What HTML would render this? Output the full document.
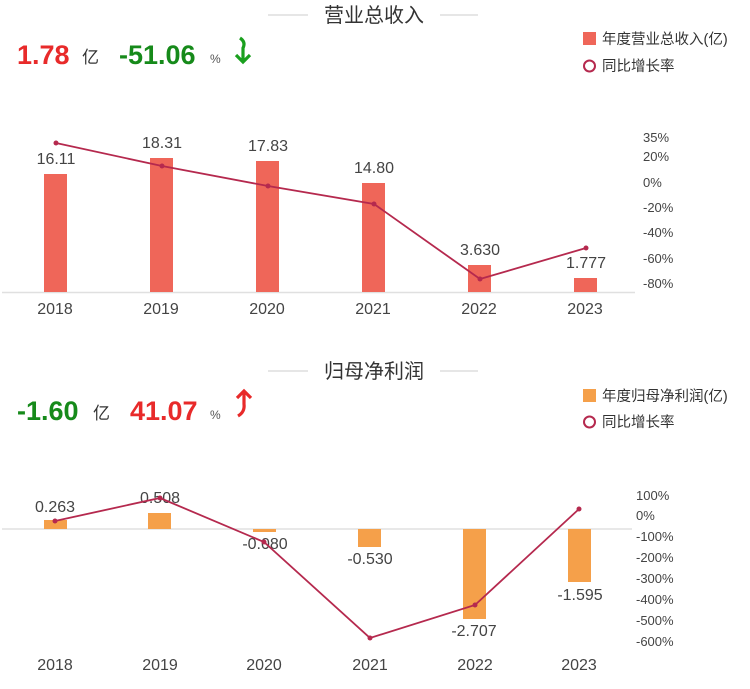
<!DOCTYPE html>
<html><head><meta charset="utf-8"><style>
html,body{margin:0;padding:0;background:#fff;width:750px;height:689px;overflow:hidden}
svg{display:block}
text{font-family:"Liberation Sans","Noto Sans CJK SC",sans-serif}
</style></head><body>
<svg width="750" height="689" viewBox="0 0 750 689" xmlns="http://www.w3.org/2000/svg">
<!-- TOP -->
<line x1="268" y1="15" x2="308" y2="15" stroke="#ccc" stroke-width="1"/>
<line x1="440" y1="15" x2="478" y2="15" stroke="#ccc" stroke-width="1"/>
<text x="374" y="22" font-size="20" fill="#333" text-anchor="middle">营业总收入</text>
<text x="17" y="64" font-size="27" font-weight="bold" fill="#e82a2a">1.78</text>
<text x="82" y="63" font-size="17" fill="#333">亿</text>
<text x="119" y="64" font-size="27" font-weight="bold" fill="#168a1a">-51.06</text>
<text x="210" y="63" font-size="12" fill="#555">%</text>
<path d="M240 38 Q246 42 243 48 L243 62 M236 55 L243 62 L250 55" fill="none" stroke="#1aa01e" stroke-width="3.2"/>
<rect x="583" y="32" width="13" height="13" fill="#ef6659"/>
<text x="602" y="44" font-size="14.5" fill="#333">年度营业总收入(亿)</text>
<circle cx="589.5" cy="66" r="5.5" fill="none" stroke="#b5294e" stroke-width="2"/>
<text x="602" y="71" font-size="14.5" fill="#333">同比增长率</text>

<line x1="2" y1="292.5" x2="635" y2="292.5" stroke="#e0e0e0" stroke-width="1.5"/>
<g fill="#ef6659">
<rect x="44" y="174" width="23" height="118"/>
<rect x="150" y="158" width="23" height="134"/>
<rect x="256" y="161" width="23" height="131"/>
<rect x="362" y="183" width="23" height="109"/>
<rect x="468" y="265" width="23" height="27"/>
<rect x="574" y="278" width="23" height="14"/>
</g>
<g font-size="16" fill="#444" text-anchor="middle">
<text x="56" y="164">16.11</text>
<text x="162" y="148">18.31</text>
<text x="268" y="151">17.83</text>
<text x="374" y="173">14.80</text>
<text x="480" y="255">3.630</text>
<text x="586" y="268">1.777</text>
</g>
<polyline points="56,143 162,166 268,186 374,204 480,279 586,248" fill="none" stroke="#b5294e" stroke-width="1.8"/>
<g fill="#b5294e"><circle cx="56" cy="143" r="2.5"/><circle cx="162" cy="166" r="2.5"/><circle cx="268" cy="186" r="2.5"/><circle cx="374" cy="204" r="2.5"/><circle cx="480" cy="279" r="2.5"/><circle cx="586" cy="248" r="2.5"/></g>
<g font-size="13" fill="#444">
<text x="643" y="142">35%</text>
<text x="643" y="161">20%</text>
<text x="643" y="187">0%</text>
<text x="643" y="212">-20%</text>
<text x="643" y="237">-40%</text>
<text x="643" y="263">-60%</text>
<text x="643" y="288">-80%</text>
</g>
<g font-size="16" fill="#444" text-anchor="middle">
<text x="55" y="314">2018</text><text x="161" y="314">2019</text><text x="267" y="314">2020</text><text x="373" y="314">2021</text><text x="479" y="314">2022</text><text x="585" y="314">2023</text>
</g>

<!-- BOTTOM -->
<line x1="268" y1="371" x2="308" y2="371" stroke="#ccc" stroke-width="1"/>
<line x1="440" y1="371" x2="478" y2="371" stroke="#ccc" stroke-width="1"/>
<text x="374" y="378" font-size="20" fill="#333" text-anchor="middle">归母净利润</text>
<text x="17" y="420" font-size="27" font-weight="bold" fill="#168a1a">-1.60</text>
<text x="93" y="419" font-size="17" fill="#333">亿</text>
<text x="130" y="420" font-size="27" font-weight="bold" fill="#e82a2a">41.07</text>
<text x="210" y="419" font-size="12" fill="#555">%</text>
<path d="M238 416 Q245 412 244 404 L244 391 M237 398 L244 391 L251 398" fill="none" stroke="#e82a2a" stroke-width="3.2"/>
<rect x="583" y="389" width="13" height="13" fill="#f5a04a"/>
<text x="602" y="401" font-size="14.5" fill="#333">年度归母净利润(亿)</text>
<circle cx="589.5" cy="422" r="5.5" fill="none" stroke="#b5294e" stroke-width="2"/>
<text x="602" y="427" font-size="14.5" fill="#333">同比增长率</text>

<line x1="2" y1="529" x2="632" y2="529" stroke="#e0e0e0" stroke-width="1.5"/>
<g fill="#f5a04a">
<rect x="44" y="520" width="23" height="9"/>
<rect x="148" y="513" width="23" height="16"/>
<rect x="253" y="529" width="23" height="3"/>
<rect x="358" y="529" width="23" height="18"/>
<rect x="463" y="529" width="23" height="90"/>
<rect x="568" y="529" width="23" height="53"/>
</g>
<g font-size="16" fill="#444" text-anchor="middle">
<text x="55" y="512">0.263</text>
<text x="160" y="503">0.508</text>
<text x="265" y="549">-0.080</text>
<text x="370" y="564">-0.530</text>
<text x="474" y="636">-2.707</text>
<text x="580" y="600">-1.595</text>
</g>
<polyline points="55,521 160,498 264,542 370,638 475,605 579,509" fill="none" stroke="#b5294e" stroke-width="1.8"/>
<g fill="#b5294e"><circle cx="55" cy="521" r="2.5"/><circle cx="160" cy="498" r="2.5"/><circle cx="264" cy="542" r="2.5"/><circle cx="370" cy="638" r="2.5"/><circle cx="475" cy="605" r="2.5"/><circle cx="579" cy="509" r="2.5"/></g>
<g font-size="13" fill="#444">
<text x="636" y="500">100%</text>
<text x="636" y="520">0%</text>
<text x="636" y="541">-100%</text>
<text x="636" y="562">-200%</text>
<text x="636" y="583">-300%</text>
<text x="636" y="604">-400%</text>
<text x="636" y="625">-500%</text>
<text x="636" y="646">-600%</text>
</g>
<g font-size="16" fill="#444" text-anchor="middle">
<text x="55" y="670">2018</text><text x="160" y="670">2019</text><text x="264" y="670">2020</text><text x="370" y="670">2021</text><text x="475" y="670">2022</text><text x="579" y="670">2023</text>
</g>
</svg>
</body></html>
